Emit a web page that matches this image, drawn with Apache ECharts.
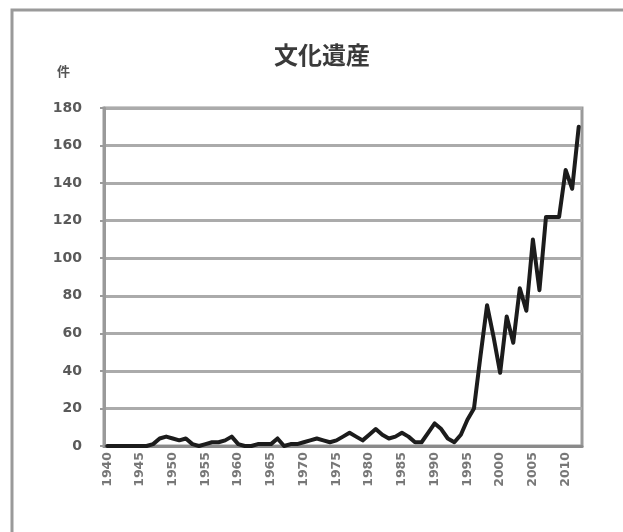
<!DOCTYPE html>
<html>
<head>
<meta charset="utf-8">
<script src="https://cdn.jsdelivr.net/npm/echarts@6/dist/echarts.min.js"></script>
<style>
  html, body { margin: 0; padding: 0; background: #fff; }
  #chart-container { width: 623px; height: 532px; }
</style>
</head>
<body>
<div id="chart-container"></div>
<script>
var years = [];
for (var y = 1940; y <= 2012; y++) years.push(String(y));

// 件数
var counts = [
  0, 0, 0, 0, 0, 0, 0, 1, 4, 5,          // 1940-1949
  4, 3, 4, 1, 0, 1, 2, 2, 3, 5,          // 1950-1959
  1, 0, 0, 1, 1, 1, 4, 0, 1, 1,          // 1960-1969
  2, 3, 4, 3, 2, 3, 5, 7, 5, 3,          // 1970-1979
  6, 9, 6, 4, 5, 7, 5, 2, 2, 7,          // 1980-1989
  12, 9, 4, 2, 6, 14, 20, 48, 75, 58,    // 1990-1999
  39, 69, 55, 84, 72, 110, 83, 122, 122, 122, // 2000-2009
  147, 137, 170                          // 2010-2012
];

var yTicks = [0, 20, 40, 60, 80, 100, 120, 140, 160, 180];

var dom = document.getElementById('chart-container');
var myChart = echarts.init(dom, null, { renderer: 'canvas' });

var option = {
  backgroundColor: '#fff',
  animation: false,
  title: {
    text: '文化遺産',
    left: 317,
    top: 38,
    textAlign: 'center',
    textStyle: {
      fontFamily: 'Noto Sans CJK JP',
      fontSize: 24,
      fontWeight: 'bold',
      color: '#3a3a3a'
    }
  },
  graphic: [
    {
      type: 'rect',
      shape: { x: 12, y: 10, width: 700, height: 600 },
      style: { fill: 'none', stroke: '#9a9a9a', lineWidth: 3 },
      silent: true
    },
    {
      type: 'text',
      left: 57,
      top: 65,
      style: {
        text: '件',
        fontFamily: 'Noto Sans CJK JP',
        fontSize: 13,
        fontWeight: 'bold',
        fill: '#555'
      }
    }
  ],
  grid: {
    left: 104,
    right: 41,
    top: 108,
    bottom: 86,
    show: true,
    borderColor: '#9a9a9a',
    borderWidth: 3,
    backgroundColor: '#fff'
  },
  xAxis: {
    type: 'category',
    data: years,
    boundaryGap: true,
    axisLine: { lineStyle: { color: '#8a8a8a', width: 3 } },
    axisTick: { show: false },
    axisLabel: {
      interval: 4,
      rotate: 90,
      margin: 6,
      fontFamily: 'DejaVu Sans',
      fontSize: 12.5,
      fontWeight: 'bold',
      color: '#777'
    },
    splitLine: { show: false }
  },
  yAxis: {
    type: 'value',
    min: yTicks[0],
    max: yTicks[yTicks.length - 1],
    interval: 20,
    axisLine: { show: true, lineStyle: { color: '#9a9a9a', width: 3 } },
    axisTick: { show: true, length: 4, lineStyle: { color: '#9a9a9a', width: 2 } },
    axisLabel: {
      margin: 22,
      fontFamily: 'DejaVu Sans',
      fontSize: 14,
      fontWeight: 'bold',
      color: '#5a5a5a'
    },
    splitLine: { lineStyle: { color: '#ababab', width: 3 } }
  },
  series: [
    {
      type: 'line',
      data: counts,
      symbol: 'none',
      smooth: false,
      lineStyle: { color: '#1c1c1c', width: 4, join: 'round', cap: 'round' }
    }
  ]
};

myChart.setOption(option);
window.addEventListener('resize', myChart.resize);
</script>
</body>
</html>
